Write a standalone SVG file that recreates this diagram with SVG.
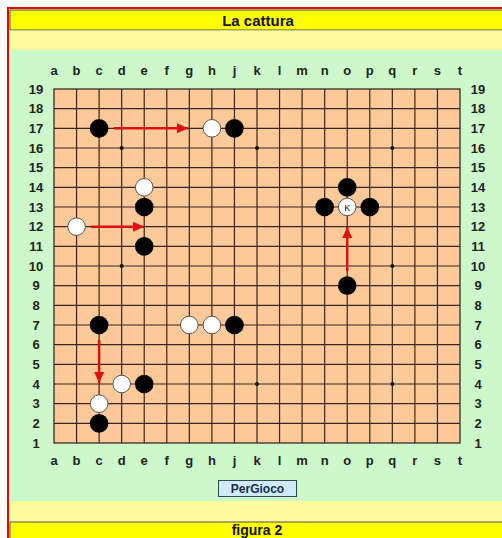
<svg xmlns="http://www.w3.org/2000/svg" width="502" height="538" viewBox="0 0 502 538">
<style>
.lbl{font-family:"Liberation Sans",Arial,sans-serif;font-weight:bold;font-size:13px;fill:#222;text-anchor:middle}
.bk{fill:#000}
.wh{fill:#fff;stroke:#555;stroke-width:1}
.arr{stroke:#e01010;stroke-width:2.5;fill:none;marker-end:url(#ah)}
.hoshi{fill:#111}
</style>
<defs>
<marker id="ah" markerUnits="userSpaceOnUse" markerWidth="12" markerHeight="10" refX="11" refY="5" orient="auto">
<path d="M0,0 L11,5 L0,10 Z" fill="#e01010"/>
</marker>
</defs>
<rect x="0" y="0" width="502" height="538" fill="#fff"/>
<rect x="8" y="8" width="510" height="540" fill="#ccf8cc" stroke="#f00000" stroke-width="2"/>
<g id="title">
<rect x="10" y="10" width="500" height="20" fill="#ffff00" stroke="#555" stroke-width="1"/>
<text x="258" y="26" class="lbl" style="font-size:15px;fill:#111">La cattura</text>
</g>
<rect x="9" y="30.5" width="495" height="19.5" fill="#fdfb9c"/>
<rect x="9" y="501" width="495" height="21" fill="#fdfb9c"/>
<g id="footer">
<rect x="10" y="522" width="500" height="20" fill="#ffff00" stroke="#555" stroke-width="1"/>
<text x="257" y="535" class="lbl" style="font-size:14px;fill:#111">figura 2</text>
</g>
<g id="board">
<rect x="54" y="89" width="406" height="354" fill="#fcc999" stroke="#3a2a20" stroke-width="1.3"/>
<path stroke="#3a2520" stroke-width="1.2" fill="none" d="M76.56 89V443M99.11 89V443M121.67 89V443M144.22 89V443M166.78 89V443M189.33 89V443M211.89 89V443M234.44 89V443M257 89V443M279.56 89V443M302.11 89V443M324.67 89V443M347.22 89V443M369.78 89V443M392.33 89V443M414.89 89V443M437.44 89V443M54 108.67H460M54 128.33H460M54 148H460M54 167.67H460M54 187.33H460M54 207H460M54 226.67H460M54 246.33H460M54 266H460M54 285.67H460M54 305.33H460M54 325H460M54 344.67H460M54 364.33H460M54 384H460M54 403.67H460M54 423.33H460"/>
<circle class="hoshi" cx="121.67" cy="148" r="2"/>
<circle class="hoshi" cx="257" cy="148" r="2"/>
<circle class="hoshi" cx="392.33" cy="148" r="2"/>
<circle class="hoshi" cx="121.67" cy="266" r="2"/>
<circle class="hoshi" cx="392.33" cy="266" r="2"/>
<circle class="hoshi" cx="257" cy="384" r="2"/>
<circle class="hoshi" cx="392.33" cy="384" r="2"/>
</g>
<g id="coords">
<text class="lbl" x="54" y="75">a</text><text class="lbl" x="76.56" y="75">b</text><text class="lbl" x="99.11" y="75">c</text><text class="lbl" x="121.67" y="75">d</text><text class="lbl" x="144.22" y="75">e</text><text class="lbl" x="166.78" y="75">f</text><text class="lbl" x="189.33" y="75">g</text><text class="lbl" x="211.89" y="75">h</text><text class="lbl" x="234.44" y="75">j</text><text class="lbl" x="257" y="75">k</text><text class="lbl" x="279.56" y="75">l</text><text class="lbl" x="302.11" y="75">m</text><text class="lbl" x="324.67" y="75">n</text><text class="lbl" x="347.22" y="75">o</text><text class="lbl" x="369.78" y="75">p</text><text class="lbl" x="392.33" y="75">q</text><text class="lbl" x="414.89" y="75">r</text><text class="lbl" x="437.44" y="75">s</text><text class="lbl" x="460" y="75">t</text>
<text class="lbl" x="54" y="465">a</text><text class="lbl" x="76.56" y="465">b</text><text class="lbl" x="99.11" y="465">c</text><text class="lbl" x="121.67" y="465">d</text><text class="lbl" x="144.22" y="465">e</text><text class="lbl" x="166.78" y="465">f</text><text class="lbl" x="189.33" y="465">g</text><text class="lbl" x="211.89" y="465">h</text><text class="lbl" x="234.44" y="465">j</text><text class="lbl" x="257" y="465">k</text><text class="lbl" x="279.56" y="465">l</text><text class="lbl" x="302.11" y="465">m</text><text class="lbl" x="324.67" y="465">n</text><text class="lbl" x="347.22" y="465">o</text><text class="lbl" x="369.78" y="465">p</text><text class="lbl" x="392.33" y="465">q</text><text class="lbl" x="414.89" y="465">r</text><text class="lbl" x="437.44" y="465">s</text><text class="lbl" x="460" y="465">t</text>
<text class="lbl" x="36" y="93.5">19</text><text class="lbl" x="36" y="113.2">18</text><text class="lbl" x="36" y="132.8">17</text><text class="lbl" x="36" y="152.5">16</text><text class="lbl" x="36" y="172.2">15</text><text class="lbl" x="36" y="191.8">14</text><text class="lbl" x="36" y="211.5">13</text><text class="lbl" x="36" y="231.2">12</text><text class="lbl" x="36" y="250.8">11</text><text class="lbl" x="36" y="270.5">10</text><text class="lbl" x="36" y="290.2">9</text><text class="lbl" x="36" y="309.8">8</text><text class="lbl" x="36" y="329.5">7</text><text class="lbl" x="36" y="349.2">6</text><text class="lbl" x="36" y="368.8">5</text><text class="lbl" x="36" y="388.5">4</text><text class="lbl" x="36" y="408.2">3</text><text class="lbl" x="36" y="427.8">2</text><text class="lbl" x="36" y="447.5">1</text>
<text class="lbl" x="478" y="93.5">19</text><text class="lbl" x="478" y="113.2">18</text><text class="lbl" x="478" y="132.8">17</text><text class="lbl" x="478" y="152.5">16</text><text class="lbl" x="478" y="172.2">15</text><text class="lbl" x="478" y="191.8">14</text><text class="lbl" x="478" y="211.5">13</text><text class="lbl" x="478" y="231.2">12</text><text class="lbl" x="478" y="250.8">11</text><text class="lbl" x="478" y="270.5">10</text><text class="lbl" x="478" y="290.2">9</text><text class="lbl" x="478" y="309.8">8</text><text class="lbl" x="478" y="329.5">7</text><text class="lbl" x="478" y="349.2">6</text><text class="lbl" x="478" y="368.8">5</text><text class="lbl" x="478" y="388.5">4</text><text class="lbl" x="478" y="408.2">3</text><text class="lbl" x="478" y="427.8">2</text><text class="lbl" x="478" y="447.5">1</text>
</g>
<g id="connectors">
<line class="arr" x1="114" y1="128.33" x2="188" y2="128.33"/>
<line class="arr" x1="91" y1="226.67" x2="144" y2="226.67"/>
<line class="arr" x1="347.22" y1="271" x2="347.22" y2="227"/>
<line class="arr" x1="99.11" y1="340" x2="99.11" y2="383"/>
</g>
<g id="stone-c17"><circle class="bk" cx="99.11" cy="128.33" r="9.3"/></g>
<g id="stone-h17"><circle class="wh" cx="211.89" cy="128.33" r="8.8"/></g>
<g id="stone-j17"><circle class="bk" cx="234.44" cy="128.33" r="9.3"/></g>
<g id="stone-e14"><circle class="wh" cx="144.22" cy="187.33" r="8.8"/></g>
<g id="stone-e13"><circle class="bk" cx="144.22" cy="207" r="9.3"/></g>
<g id="stone-b12"><circle class="wh" cx="76.56" cy="226.67" r="8.8"/></g>
<g id="stone-e11"><circle class="bk" cx="144.22" cy="246.33" r="9.3"/></g>
<g id="stone-o14"><circle class="bk" cx="347.22" cy="187.33" r="9.3"/></g>
<g id="stone-n13"><circle class="bk" cx="324.67" cy="207" r="9.3"/></g>
<g id="stone-o13"><circle class="wh" cx="347.22" cy="207" r="8.8"/><text x="347.22" y="210.5" style="font-family:'Liberation Sans',Arial,sans-serif;font-size:9px;fill:#111;text-anchor:middle">K</text></g>
<g id="stone-p13"><circle class="bk" cx="369.78" cy="207" r="9.3"/></g>
<g id="stone-o9"><circle class="bk" cx="347.22" cy="285.67" r="9.3"/></g>
<g id="stone-c7"><circle class="bk" cx="99.11" cy="325" r="9.3"/></g>
<g id="stone-g7"><circle class="wh" cx="189.33" cy="325" r="8.8"/></g>
<g id="stone-h7"><circle class="wh" cx="211.89" cy="325" r="8.8"/></g>
<g id="stone-j7"><circle class="bk" cx="234.44" cy="325" r="9.3"/></g>
<g id="stone-d4"><circle class="wh" cx="121.67" cy="384" r="8.8"/></g>
<g id="stone-e4"><circle class="bk" cx="144.22" cy="384" r="9.3"/></g>
<g id="stone-c3"><circle class="wh" cx="99.11" cy="403.67" r="8.8"/></g>
<g id="stone-c2"><circle class="bk" cx="99.11" cy="423.33" r="9.3"/></g>
<g id="button">
<rect x="218.5" y="480.5" width="78" height="16" fill="#cfeaf8" stroke="#33475a" stroke-width="1"/>
<text x="257.5" y="493" style="font-family:'Liberation Sans',Arial,sans-serif;font-weight:bold;font-size:12px;fill:#1c2c48;text-anchor:middle">PerGioco</text>
</g>
</svg>
